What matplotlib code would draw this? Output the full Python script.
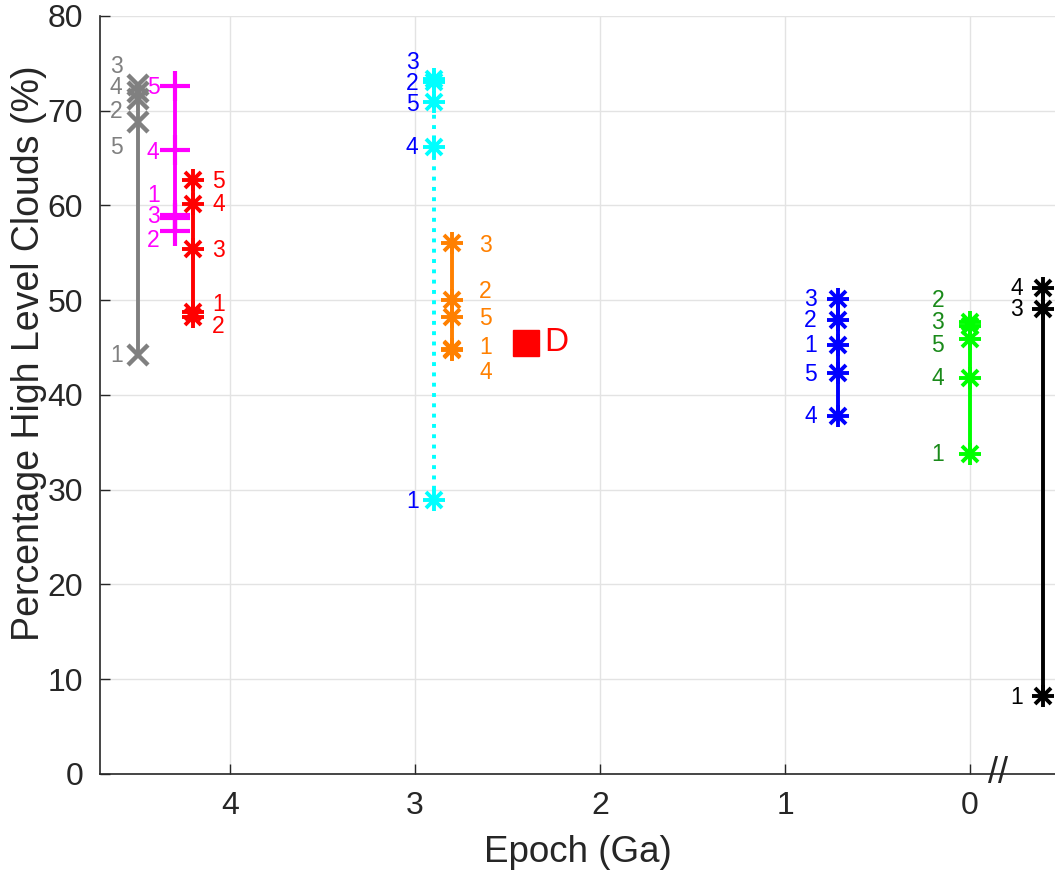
import matplotlib
matplotlib.use("Agg")
import matplotlib.pyplot as plt
import matplotlib.transforms as mtrans

plt.rcParams['font.family'] = ['Liberation Sans', 'DejaVu Sans']

# simulation numbers 1..5 for each epoch
sim_ids = ['1', '2', '3', '4', '5']

# epoch (Ga) of each group
gray_epoch = 4.5
magenta_epoch = 4.3
red_epoch = 4.2
cyan_epoch = 2.9
orange_epoch = 2.8
blue_epoch = 0.715
green_epoch = 0.0
black_epoch = -0.395

# percentage high level clouds, simulations 1..5
gray_vals = [44.2, 71.2, 72.7, 72.0, 68.8]
magenta_vals = [59.0, 57.3, 58.7, 65.9, 72.6]
red_vals = [48.8, 48.2, 55.4, 60.2, 62.7]
cyan_vals = [28.9, 73.0, 73.3, 66.2, 70.9]
orange_vals = [44.9, 50.0, 56.0, 44.7, 48.2]
blue_vals = [45.3, 47.9, 50.1, 37.8, 42.3]
green_vals = [33.8, 47.7, 47.3, 41.8, 45.9]
black_ids = ['1', '3', '4']
black_vals = [8.2, 49.1, 51.3]

d_epoch = 2.4
d_val = 45.5
d_label = 'D'

x_ticks = [4, 3, 2, 1, 0]
y_ticks = [0, 10, 20, 30, 40, 50, 60, 70, 80]

fig = plt.figure(figsize=(10.55, 8.72), dpi=100)
ax = fig.add_axes([0.0948, 0.1124, 0.9052, 0.8693])


def asterisk(x, ys, color, ms=16, mew=2.8):
    xs = [x] * len(ys)
    ax.plot(xs, ys, linestyle='none', marker='+', ms=ms, mew=mew, color=color, zorder=4)
    ax.plot(xs, ys, linestyle='none', marker='x', ms=ms * 0.72, mew=mew, color=color, zorder=4)


def stem(x, ys, color, ls='-'):
    ax.plot([x, x], [min(ys), max(ys)], color=color, lw=2.8, ls=ls, zorder=3)


def labels(x, ids, label_ys, color, dx):
    tr = mtrans.offset_copy(ax.transData, fig=fig, x=dx, y=0, units='dots')
    ha = 'right' if dx < 0 else 'left'
    for lab, ly in zip(ids, label_ys):
        ax.text(x, ly, lab, color=color, fontsize=16.5, ha=ha, va='center', transform=tr)


# gray (x markers)
stem(gray_epoch, gray_vals, '#808080')
ax.plot([gray_epoch] * 5, gray_vals, linestyle='none', marker='x', ms=14, mew=3.2, color='#808080', zorder=4)
labels(gray_epoch, sim_ids, [44.2, 69.9, 74.7, 72.5, 66.1], '#808080', -15)

# magenta (+ markers)
stem(magenta_epoch, magenta_vals, '#ff00ff')
ax.plot([magenta_epoch] * 5, magenta_vals, linestyle='none', marker='+', ms=22, mew=3.0, color='#ff00ff', zorder=4)
labels(magenta_epoch, sim_ids, [61.1, 56.3, 58.8, 65.6, 72.5], '#ff00ff', -15)

# red
stem(red_epoch, red_vals, '#ff0000')
asterisk(red_epoch, red_vals, '#ff0000')
labels(red_epoch, sim_ids, [49.6, 47.2, 55.2, 60.1, 62.5], '#ff0000', 19)

# cyan, dotted
stem(cyan_epoch, cyan_vals, '#00ffff', ls=':')
asterisk(cyan_epoch, cyan_vals, '#00ffff')
labels(cyan_epoch, sim_ids, [28.8, 72.9, 75.1, 66.1, 70.7], '#0000ff', -15)

# orange
stem(orange_epoch, orange_vals, '#ff8000')
asterisk(orange_epoch, orange_vals, '#ff8000')
labels(orange_epoch, sim_ids, [45.0, 50.9, 55.8, 42.4, 48.1], '#ff8000', 27)

# D
ax.plot([d_epoch], [d_val], linestyle='none', marker='s', ms=19, color='#ff0000', zorder=4)
ax.text(d_epoch, d_val, d_label, color='#ff0000', fontsize=24, ha='left', va='center',
        transform=mtrans.offset_copy(ax.transData, fig=fig, x=18, y=0, units='dots'))

# blue
stem(blue_epoch, blue_vals, '#0000ff')
asterisk(blue_epoch, blue_vals, '#0000ff')
labels(blue_epoch, sim_ids, [45.2, 47.9, 50.1, 37.7, 42.2], '#0000ff', -21)

# green
stem(green_epoch, green_vals, '#00ff00')
asterisk(green_epoch, green_vals, '#00ff00')
labels(green_epoch, sim_ids, [33.7, 50.0, 47.7, 41.7, 45.2], '#1a8a1a', -26)

# black (present day, after axis break)
stem(black_epoch, black_vals, '#000000')
asterisk(black_epoch, black_vals, '#000000')
labels(black_epoch, black_ids, [8.1, 49.0, 51.2], '#000000', -20)

ax.set_xlim(4.703, -0.459)
ax.set_ylim(0, 80)
ax.set_xticks(x_ticks)
ax.set_yticks(y_ticks)
ax.grid(True, color='#e3e3e3', lw=1)
ax.set_axisbelow(True)
for side in ['top', 'right']:
    ax.spines[side].set_visible(False)
for side in ['left', 'bottom']:
    ax.spines[side].set_color('#262626')
    ax.spines[side].set_linewidth(1.2)
ax.tick_params(direction='in', length=7, width=1, colors='#262626', labelsize=23, pad=12)
ax.set_xlabel('Epoch (Ga)', fontsize=26.5, color='#262626', labelpad=10)
ax.set_ylabel('Percentage High Level Clouds (%)', fontsize=27, color='#262626')
ax.yaxis.set_label_coords(-0.0555, 0.555)

# axis break mark
ax.text(-0.15, 0, '//', fontsize=26, color='#262626', ha='center', va='center',
        transform=ax.transData, clip_on=False)

fig.savefig('out.png', dpi=100)
